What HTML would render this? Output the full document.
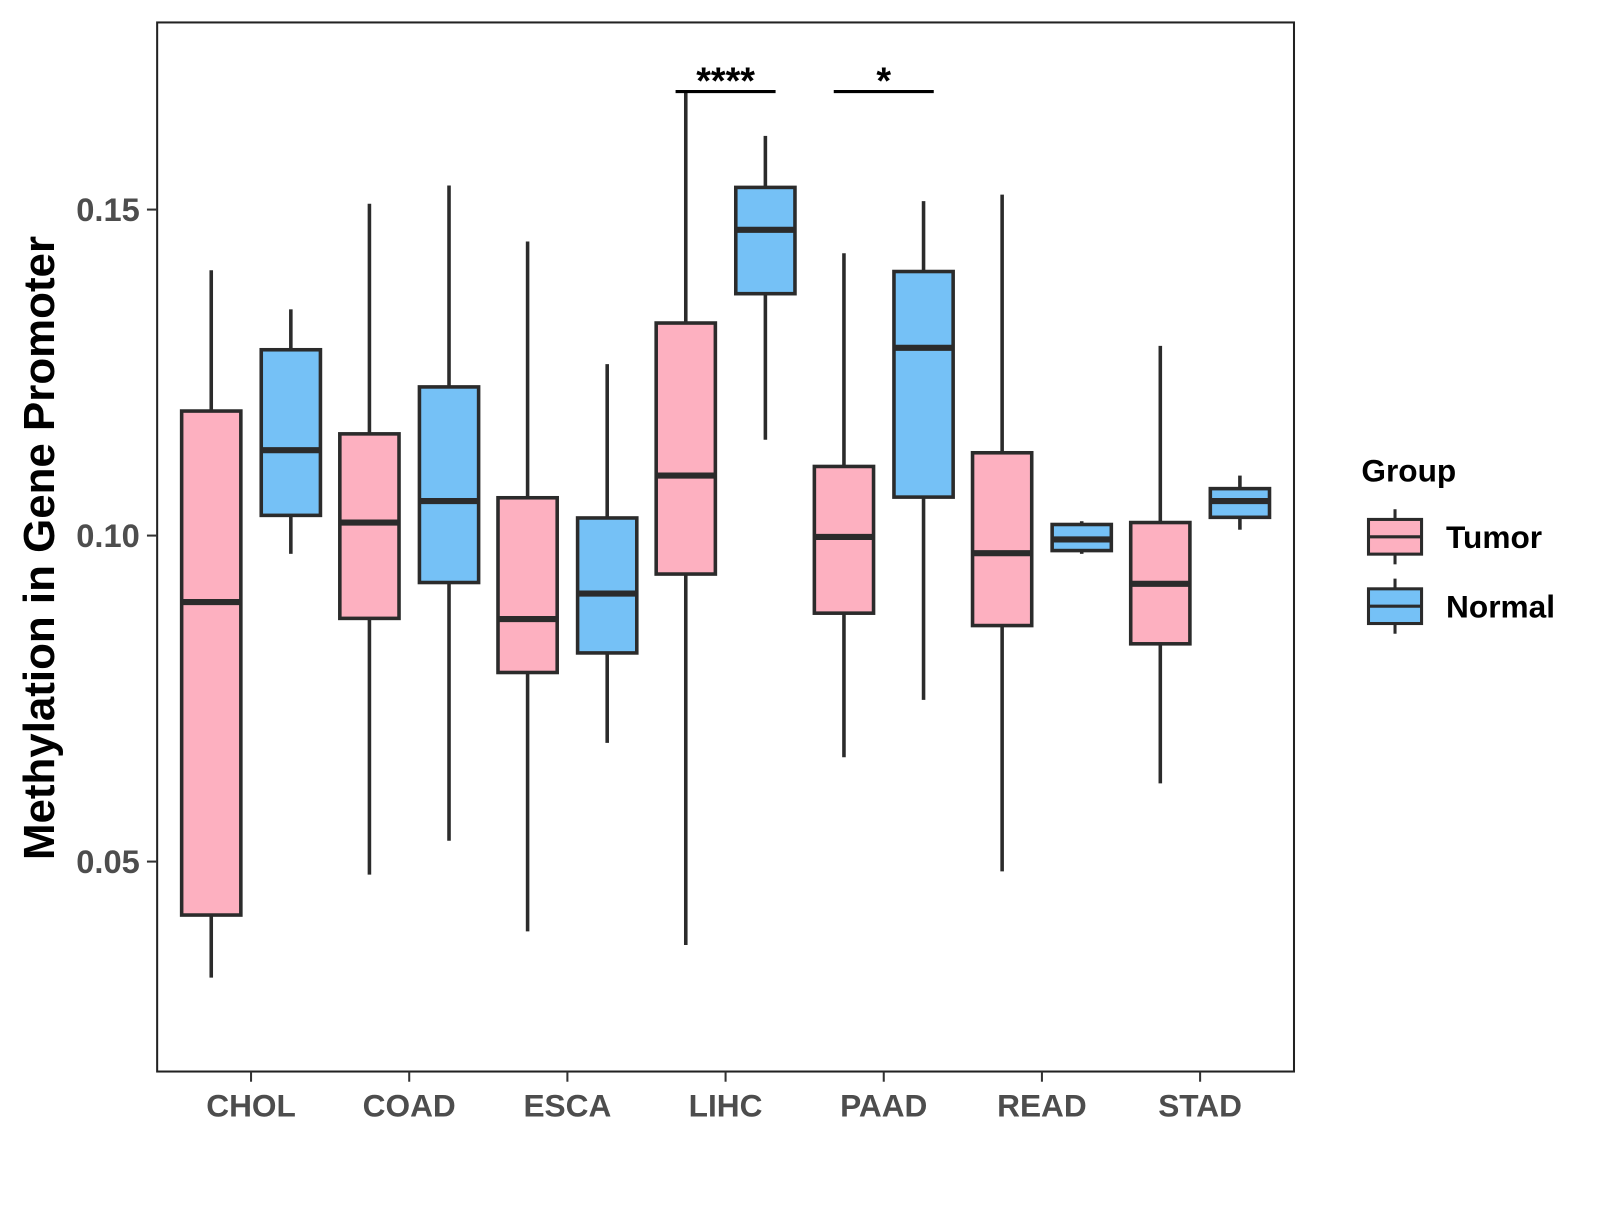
<!DOCTYPE html>
<html><head><meta charset="utf-8"><style>
html,body{margin:0;padding:0;background:#fff;}
svg text{font-family:"Liberation Sans",Arial,sans-serif;font-weight:bold;}
</style></head><body>
<svg id="chart" width="1600" height="1200" xmlns="http://www.w3.org/2000/svg"><g id="root" transform="scale(1.0205)"></g></svg>
<script>
const categories = ["CHOL","COAD","ESCA","LIHC","PAAD","READ","STAD"];
const groups = ["Tumor","Normal"];
// [whiskerHigh, q3, median, q1, whiskerLow]
const tumorStats = [
  [0.1407,0.1191,0.0898,0.0418,0.0322],
  [0.1509,0.1156,0.1020,0.0873,0.0480],
  [0.1451,0.1058,0.0872,0.0790,0.0393],
  [0.1681,0.1326,0.1092,0.0941,0.0372],
  [0.1433,0.1106,0.0998,0.0881,0.0660],
  [0.1523,0.1127,0.0973,0.0862,0.0485],
  [0.1291,0.1020,0.0926,0.0834,0.0620]
];
const normalStats = [
  [0.1347,0.1285,0.1131,0.1031,0.0972],
  [0.1537,0.1228,0.1053,0.0928,0.0532],
  [0.1263,0.1027,0.0911,0.0820,0.0682],
  [0.1613,0.1534,0.1469,0.1371,0.1147],
  [0.1513,0.1405,0.1288,0.1059,0.0748],
  [0.1022,0.1017,0.0994,0.0977,0.0972],
  [0.1092,0.1072,0.1053,0.1028,0.1009]
];
const yTicks = [0.05,0.10,0.15];
const yTickLabels = ["0.05","0.10","0.15"];
const sigCategories = ["LIHC","PAAD"];
const sigLabels = ["****","*"];
const sigValue = 0.1681;

const NS="http://www.w3.org/2000/svg";
const svg=document.getElementById("root");
const P={l:154,r:1268,t:22,b:1050};
const yMin=0.0178,yMax=0.1787;
function yScale(v){return P.b-(v-yMin)/(yMax-yMin)*(P.b-P.t);}
function xScale(i){return 246+i*155;}
const colors={Tumor:"#FDB0C0",Normal:"#75C1F6"};
function el(tag,attrs,parent){const e=document.createElementNS(NS,tag);for(const k in attrs)e.setAttribute(k,attrs[k]);(parent||svg).appendChild(e);return e;}

const panel=el("rect",{x:P.l,y:P.t,width:P.r-P.l,height:P.b-P.t,fill:"none",stroke:"#222","stroke-width":2});



yTicks.forEach((v,i)=>{
  const y=yScale(v);
  const t=el("line",{x1:P.l-10,x2:P.l,y1:y,y2:y,stroke:"#333","stroke-width":2});
  
  
  const lb=el("text",{x:P.l-17,y:y+11,"text-anchor":"end","font-size":32,fill:"#4d4d4d"});
  lb.textContent=yTickLabels[i];
  
  
});
categories.forEach((c,i)=>{
  const x=xScale(i);
  const t=el("line",{x1:x,x2:x,y1:P.b,y2:P.b+10,stroke:"#333","stroke-width":2});
  
  
  const lb=el("text",{x:x,y:1094,"text-anchor":"middle","font-size":31,fill:"#4d4d4d"});
  lb.textContent=c;
  
  
});
const yt=el("text",{x:0,y:0,transform:"translate(53,537) rotate(-90)","text-anchor":"middle","font-size":43,fill:"#000"});
yt.textContent="Methylation in Gene Promoter";



function drawBox(cx,s,fill,name){
  const g=el("g",{});
  
  
  const w=58;
  el("line",{x1:cx,x2:cx,y1:yScale(s[0]),y2:yScale(s[1]),stroke:"#2b2b2b","stroke-width":3.5},g);
  el("line",{x1:cx,x2:cx,y1:yScale(s[3]),y2:yScale(s[4]),stroke:"#2b2b2b","stroke-width":3.5},g);
  el("rect",{x:cx-w/2,y:yScale(s[1]),width:w,height:yScale(s[3])-yScale(s[1]),fill:fill,stroke:"#2b2b2b","stroke-width":3.5},g);
  el("line",{x1:cx-w/2,x2:cx+w/2,y1:yScale(s[2]),y2:yScale(s[2]),stroke:"#2b2b2b","stroke-width":6},g);
}
categories.forEach((c,i)=>{
  drawBox(xScale(i)-39,tumorStats[i],colors.Tumor,"box-tumor-"+c.toLowerCase());
  drawBox(xScale(i)+39,normalStats[i],colors.Normal,"box-normal-"+c.toLowerCase());
});
sigCategories.forEach((c,k)=>{
  const i=categories.indexOf(c);
  const y=yScale(sigValue);
  const ln=el("line",{x1:xScale(i)-49,x2:xScale(i)+49,y1:y,y2:y,stroke:"#000","stroke-width":3});
  
  
  const t=el("text",{x:xScale(i),y:y+2,"text-anchor":"middle","font-size":37,fill:"#000"});
  t.textContent=sigLabels[k];
  
  
});
const lt=el("text",{x:1334,y:472,"font-size":31,fill:"#000"});
lt.textContent="Group";


groups.forEach((gname,k)=>{
  const y0=509+k*68;
  const g=el("g",{});
  
  
  el("line",{x1:1367,x2:1367,y1:y0-10,y2:y0+44,stroke:"#2b2b2b","stroke-width":3},g);
  el("rect",{x:1341,y:y0,width:52,height:34,fill:colors[gname],stroke:"#2b2b2b","stroke-width":3},g);
  el("line",{x1:1341,x2:1393,y1:y0+17,y2:y0+17,stroke:"#2b2b2b","stroke-width":3},g);
  const t=el("text",{x:1417,y:y0+28,"font-size":31,fill:"#000"},g);
  t.textContent=gname;
});
</script>
</body></html>
